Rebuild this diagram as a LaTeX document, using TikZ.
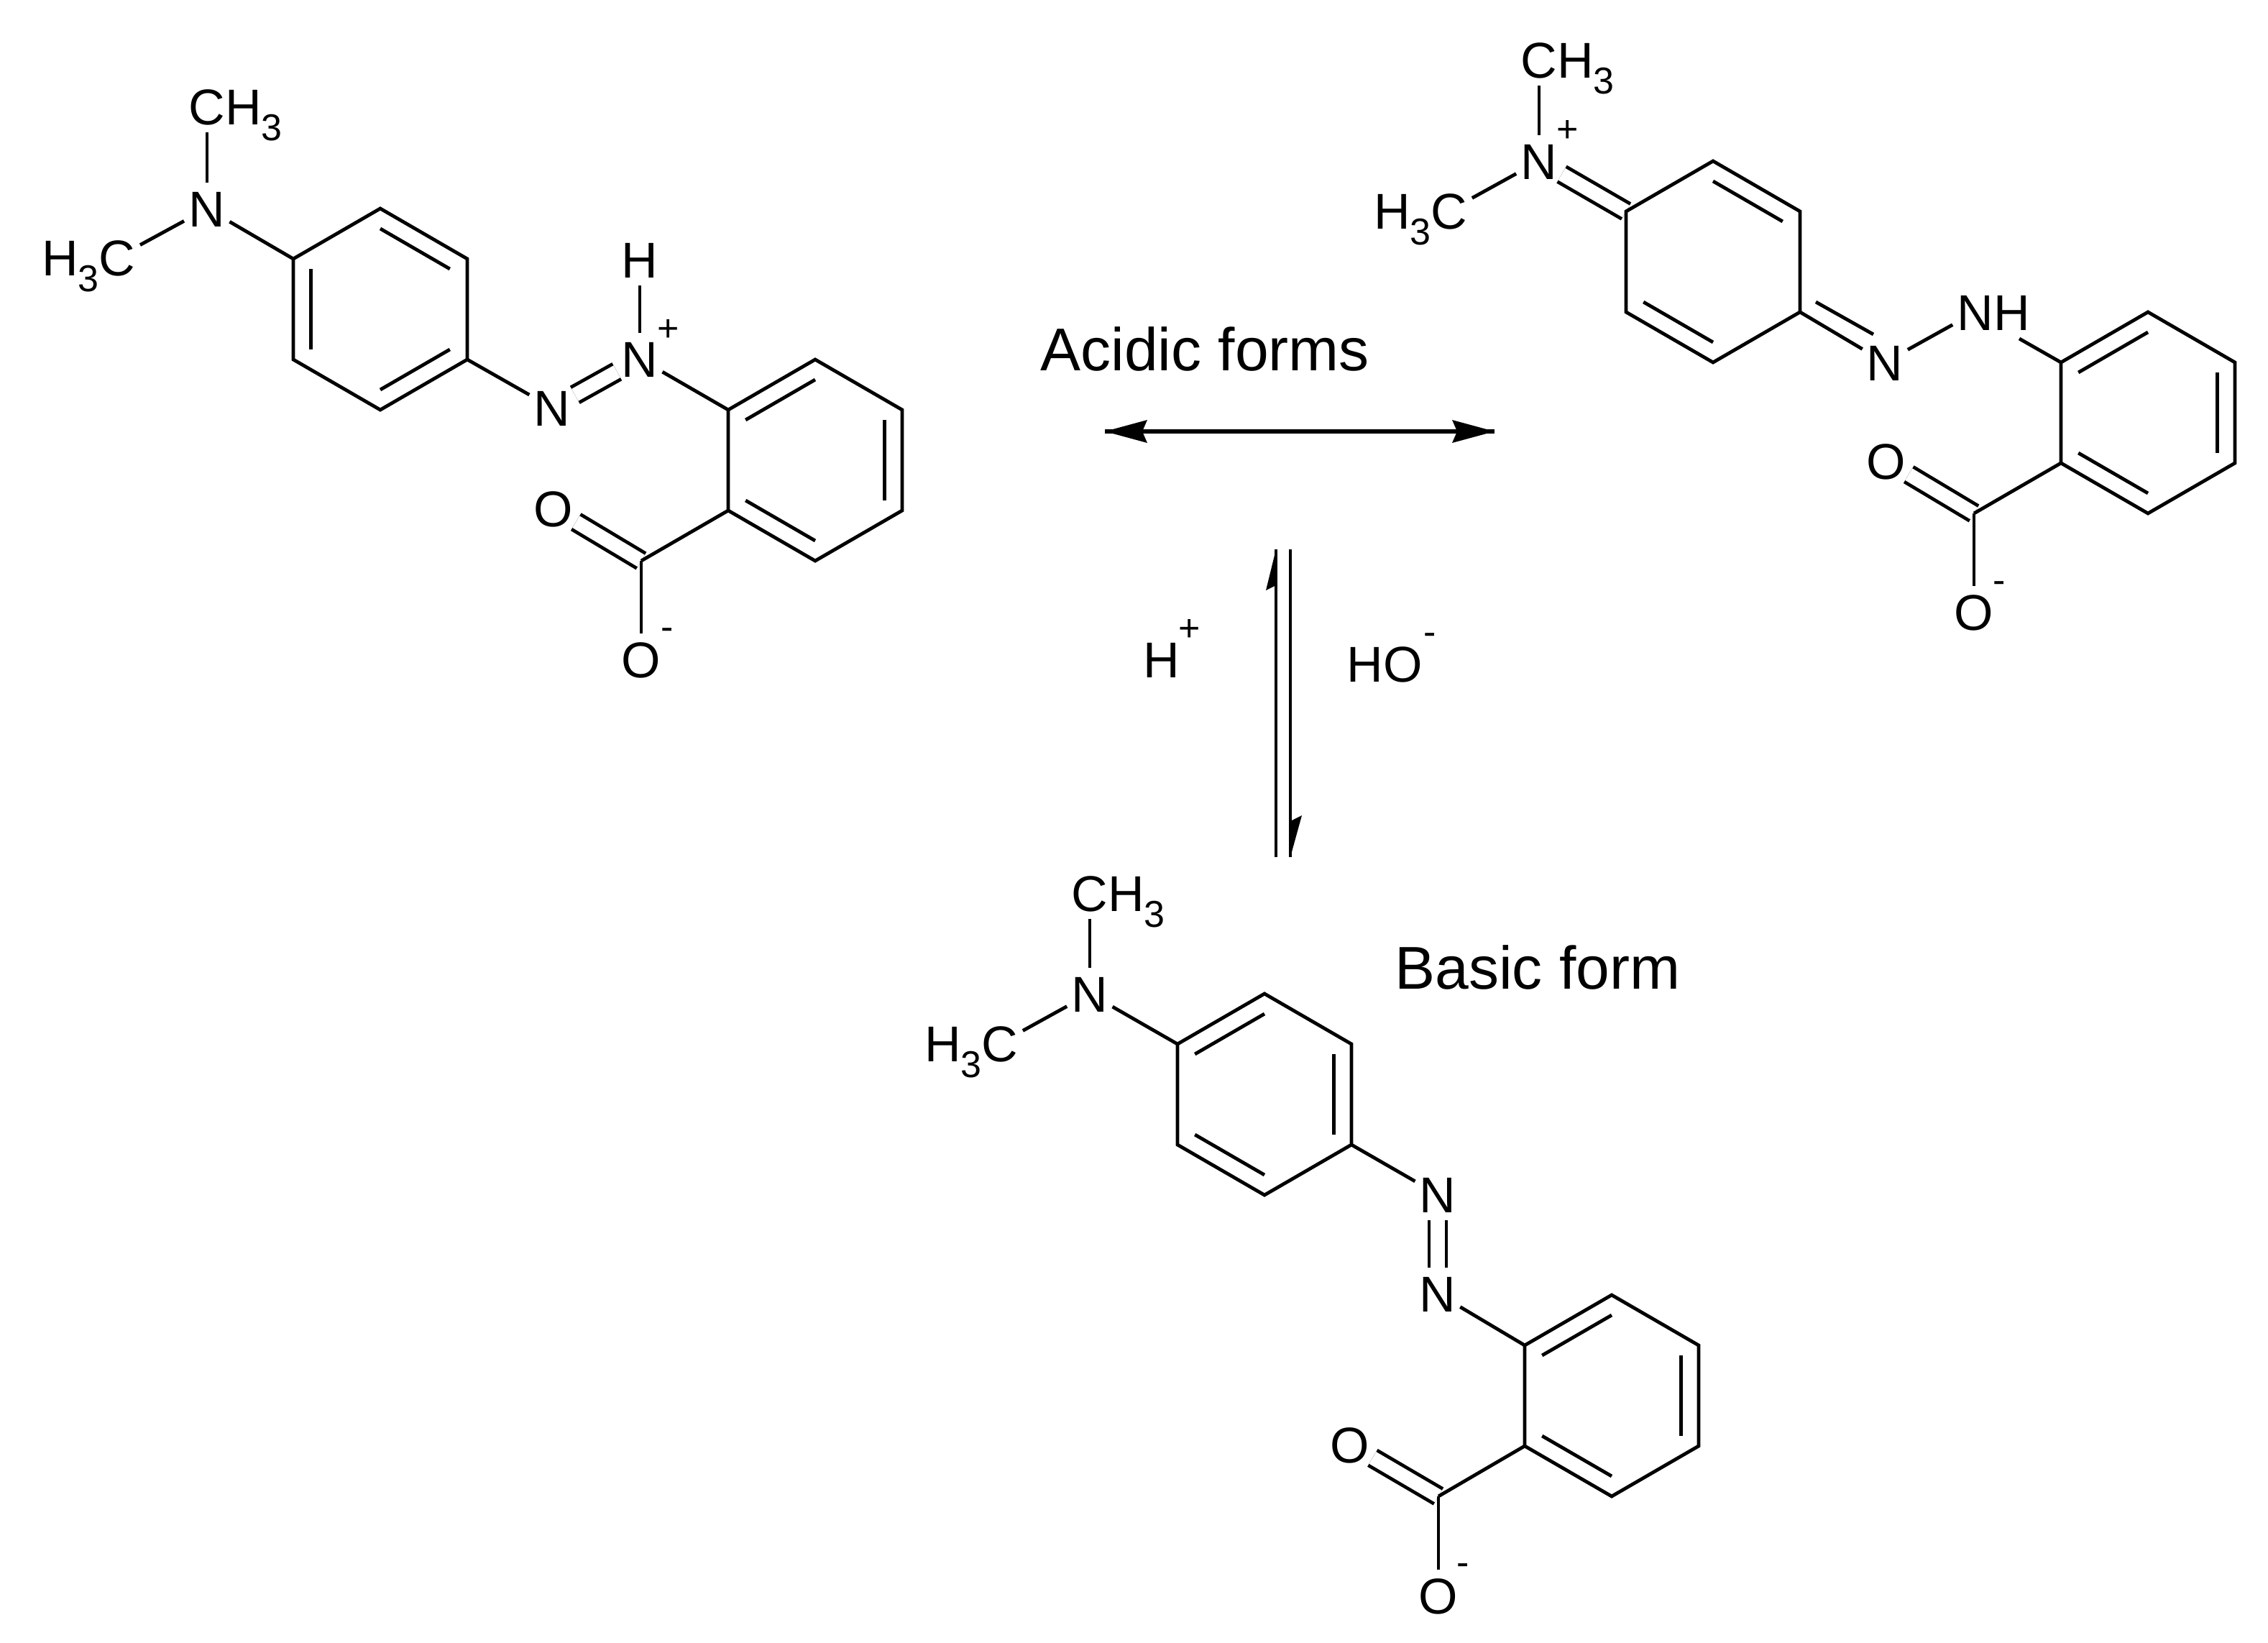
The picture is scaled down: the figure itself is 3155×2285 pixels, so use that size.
\documentclass[tikz,border=0pt]{standalone}
\usepackage{fontspec}
\setmainfont{Liberation Sans}
\usetikzlibrary{calc}
\newcommand{\subscr}[1]{\raisebox{-11pt}{\fontsize{26}{30}\selectfont #1}}
\newcommand{\atomtext}[1]{\raisebox{0pt}[.716em][0pt]{\makebox[0pt]{#1}}}
\begin{document}
\begin{tikzpicture}[x=0.5pt,y=0.5pt]
\tikzstyle{every node}+=[inner sep=0pt]
\tikzstyle{atom}=[circle,minimum size=36pt,font=\fontsize{35}{40}\selectfont]
\tikzstyle{charge}=[font=\fontsize{26}{30}\selectfont]
\tikzstyle{caption}=[anchor=base west,font=\fontsize{42}{48}\selectfont]
\tikzstyle{bond}=[black,line width=2.4pt]
\tikzstyle{dbl}=[black,line width=2.4pt,double,double distance=9.6pt]
\tikzstyle{arrowline}=[black,line width=2.6pt]
\useasboundingbox (0,0) rectangle (3155,-2285);
\node [atom] (n1) at (288,-290) {\atomtext{N}};
\node [atom] (me1) at (288,-148) {\atomtext{C\rlap{H\subscr{3}}}};
\node [atom] (me2) at (163,-358) {\atomtext{\llap{H\subscr{3}}C}};
\node [atom] (n2) at (768,-567) {\atomtext{N}};
\node [atom] (n3) at (890,-499) {\atomtext{N}};
\node [atom] (h1) at (890,-361) {\atomtext{H}};
\node [charge] (p1) at (930,-459) {+};
\node [atom] (o1) at (770,-707) {\atomtext{O}};
\node [atom] (o2) at (892,-917) {\atomtext{O}};
\node [charge] (m1) at (928,-882) {-};
\coordinate (k1) at (892,-780);
\coordinate (ac) at (529,-430);
\coordinate (a1) at (529,-290);
\coordinate (a2) at (650,-360);
\coordinate (a3) at (650,-500);
\coordinate (a4) at (529,-570);
\coordinate (a5) at (408,-500);
\coordinate (a6) at (408,-360);
\coordinate (bc) at (1134,-640);
\coordinate (b1) at (1134,-500);
\coordinate (b2) at (1255,-570);
\coordinate (b3) at (1255,-710);
\coordinate (b4) at (1134,-780);
\coordinate (b5) at (1013,-710);
\coordinate (b6) at (1013,-570);
\draw [dbl] (n2) -- (n3);
\draw [dbl] (o1) -- (k1);
\draw [bond] (a1) -- (a2) -- (a3) -- (a4) -- (a5) -- (a6) -- cycle;
\draw [bond] (b1) -- (b2) -- (b3) -- (b4) -- (b5) -- (b6) -- cycle;
\draw [bond] ($(a1)!0.2!(ac)$) -- ($(a2)!0.2!(ac)$);
\draw [bond] ($(a3)!0.2!(ac)$) -- ($(a4)!0.2!(ac)$);
\draw [bond] ($(a5)!0.2!(ac)$) -- ($(a6)!0.2!(ac)$);
\draw [bond] ($(b6)!0.2!(bc)$) -- ($(b1)!0.2!(bc)$);
\draw [bond] ($(b2)!0.2!(bc)$) -- ($(b3)!0.2!(bc)$);
\draw [bond] ($(b4)!0.2!(bc)$) -- ($(b5)!0.2!(bc)$);
\draw [bond] (me1) -- (n1);
\draw [bond] (me2) -- (n1);
\draw [bond] (n1) -- (a6);
\draw [bond] (a3) -- (n2);
\draw [bond] (h1) -- (n3);
\draw [bond] (n3) -- (b6);
\draw [bond] (b5) -- (k1);
\draw [bond] (k1) -- (o2);
\node [atom] (n4) at (2141,-224) {\atomtext{N}};
\node [atom] (me3) at (2141,-83) {\atomtext{C\rlap{H\subscr{3}}}};
\node [atom] (me4) at (2016,-293) {\atomtext{\llap{H\subscr{3}}C}};
\node [charge] (p2) at (2181,-182) {+};
\node [atom] (n5) at (2622,-504) {\atomtext{N}};
\node [atom] (n6) at (2748,-434) {\atomtext{N\rlap{H}}};
\node [atom] (o3) at (2624,-641) {\atomtext{O}};
\node [atom] (o4) at (2746,-851) {\atomtext{O}};
\node [charge] (m2) at (2781,-817) {-};
\coordinate (k2) at (2746,-714);
\coordinate (t1) at (2526,-420);
\coordinate (t2) at (2606,-465);
\coordinate (t3) at (2809,-471);
\coordinate (cc) at (2383,-364);
\coordinate (c1) at (2383,-224);
\coordinate (c2) at (2504,-294);
\coordinate (c3) at (2504,-434);
\coordinate (c4) at (2383,-504);
\coordinate (c5) at (2262,-434);
\coordinate (c6) at (2262,-294);
\coordinate (dc) at (2988,-574);
\coordinate (d1) at (2988,-434);
\coordinate (d2) at (3109,-504);
\coordinate (d3) at (3109,-644);
\coordinate (d4) at (2988,-714);
\coordinate (d5) at (2867,-644);
\coordinate (d6) at (2867,-504);
\draw [dbl] (n4) -- (c6);
\draw [dbl] (o3) -- (k2);
\draw [bond] (c1) -- (c2) -- (c3) -- (c4) -- (c5) -- (c6) -- cycle;
\draw [bond] (d1) -- (d2) -- (d3) -- (d4) -- (d5) -- (d6) -- cycle;
\draw [bond] ($(c1)!0.2!(cc)$) -- ($(c2)!0.2!(cc)$);
\draw [bond] ($(c4)!0.2!(cc)$) -- ($(c5)!0.2!(cc)$);
\draw [bond] ($(d6)!0.2!(dc)$) -- ($(d1)!0.2!(dc)$);
\draw [bond] ($(d2)!0.2!(dc)$) -- ($(d3)!0.2!(dc)$);
\draw [bond] ($(d4)!0.2!(dc)$) -- ($(d5)!0.2!(dc)$);
\draw [bond] (me3) -- (n4);
\draw [bond] (me4) -- (n4);
\draw [bond] (c3) -- (n5);
\draw [bond] (t1) -- (t2);
\draw [bond] (n5) -- (n6);
\draw [bond] (t3) -- (d6);
\draw [bond] (d5) -- (k2);
\draw [bond] (k2) -- (o4);
\node [atom] (n7) at (1516,-1382) {\atomtext{N}};
\node [atom] (me5) at (1516,-1242) {\atomtext{C\rlap{H\subscr{3}}}};
\node [atom] (me6) at (1391,-1451) {\atomtext{\llap{H\subscr{3}}C}};
\node [atom] (n8) at (2000,-1661) {\atomtext{N}};
\node [atom] (n9) at (2000,-1799) {\atomtext{N}};
\node [atom] (o5) at (1878,-2009) {\atomtext{O}};
\node [atom] (o6) at (2001,-2219) {\atomtext{O}};
\node [charge] (m3) at (2035,-2183) {-};
\coordinate (k3) at (2001,-2081);
\coordinate (ec) at (1759,-1522);
\coordinate (e1) at (1759,-1382);
\coordinate (e2) at (1880,-1452);
\coordinate (e3) at (1880,-1592);
\coordinate (e4) at (1759,-1662);
\coordinate (e5) at (1638,-1592);
\coordinate (e6) at (1638,-1452);
\coordinate (fc) at (2242,-1941);
\coordinate (f1) at (2242,-1801);
\coordinate (f2) at (2363,-1871);
\coordinate (f3) at (2363,-2011);
\coordinate (f4) at (2242,-2081);
\coordinate (f5) at (2121,-2011);
\coordinate (f6) at (2121,-1871);
\draw [dbl] (n8) -- (n9);
\draw [dbl] (o5) -- (k3);
\draw [bond] (e1) -- (e2) -- (e3) -- (e4) -- (e5) -- (e6) -- cycle;
\draw [bond] (f1) -- (f2) -- (f3) -- (f4) -- (f5) -- (f6) -- cycle;
\draw [bond] ($(e6)!0.2!(ec)$) -- ($(e1)!0.2!(ec)$);
\draw [bond] ($(e2)!0.2!(ec)$) -- ($(e3)!0.2!(ec)$);
\draw [bond] ($(e4)!0.2!(ec)$) -- ($(e5)!0.2!(ec)$);
\draw [bond] ($(f6)!0.2!(fc)$) -- ($(f1)!0.2!(fc)$);
\draw [bond] ($(f2)!0.2!(fc)$) -- ($(f3)!0.2!(fc)$);
\draw [bond] ($(f4)!0.2!(fc)$) -- ($(f5)!0.2!(fc)$);
\draw [bond] (me5) -- (n7);
\draw [bond] (me6) -- (n7);
\draw [bond] (n7) -- (e6);
\draw [bond] (e3) -- (n8);
\draw [bond] (n9) -- (f6);
\draw [bond] (f5) -- (k3);
\draw [bond] (k3) -- (o6);
\node [caption] (acid) at (1447,-515) {Acidic forms};
\node [caption] (base) at (1940,-1375) {Basic form};
\node [atom,anchor=base west,minimum size=0pt] (hp) at (1581,-942) {H};
\node [charge] (hpp) at (1655,-876) {+};
\node [atom,anchor=base west,minimum size=0pt] (ho) at (1868,-948) {HO};
\node [charge] (hom) at (1989,-889) {-};
\coordinate (rl) at (1537,-600);
\coordinate (rr) at (2079,-600);
\coordinate (up1) at (1775,-1192);
\coordinate (up2) at (1775,-764);
\coordinate (dn1) at (1795,-764);
\coordinate (dn2) at (1795,-1192);
\draw [arrowline] (rl) -- (rr);
\fill [black] (1537,-600) -- (1596,-584) -- (1589,-600) -- (1596,-616);
\fill [black] (2079,-600) -- (2020,-584) -- (2027,-600) -- (2020,-616);
\draw [bond] (up1) -- (up2);
\fill [black] (1775,-764) -- (1761,-821) -- (1773,-815) -- (1777,-815);
\draw [bond] (dn1) -- (dn2);
\fill [black] (1795,-1192) -- (1811,-1134) -- (1797,-1141) -- (1793,-1141);
\end{tikzpicture}
\end{document}
